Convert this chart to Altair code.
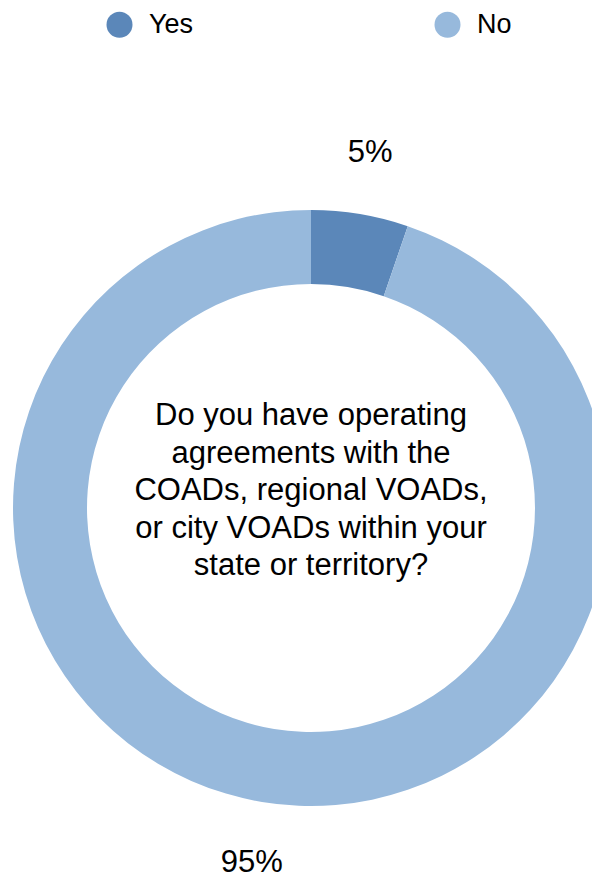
import altair as alt
import pandas as pd

answers = ["Yes", "No"]
counts = [1, 18]
pct_labels = ["5%", "95%"]
order_idx = [0, 1]
colors = ["#5b87b9", "#97b9dc"]
question_lines = [
    "Do you have operating",
    "agreements with the",
    "COADs, regional VOADs,",
    "or city VOADs within your",
    "state or territory?",
]

df = pd.DataFrame({"answer": answers, "count": counts, "label": pct_labels, "idx": order_idx})

FONT = "Liberation Sans"
CX, CY = 303, 500

base = alt.Chart(df).encode(
    theta=alt.Theta("count:Q", stack=True),
    order=alt.Order("idx:Q"),
)

color = alt.Color(
    "answer:N",
    scale=alt.Scale(domain=answers, range=colors),
    legend=alt.Legend(
        title=None,
        orient="none",
        direction="horizontal",
        legendX=98,
        legendY=3,
        padding=0,
        symbolType="circle",
        symbolSize=676,
        symbolStrokeWidth=0,
        labelFontSize=27,
        labelFont=FONT,
        labelColor="#000000",
        labelOffset=16,
        columnPadding=240,
    ),
)

donut = base.mark_arc(outerRadius=298, innerRadius=224, stroke=None).encode(
    color=color,
    x=alt.value(CX),
    y=alt.value(CY),
)

labels = base.mark_text(
    radius=360, fontSize=31, font=FONT, color="#000000", align="center", baseline="middle"
).encode(
    text="label:N",
    x=alt.value(CX),
    y=alt.value(CY),
)

center = alt.Chart(pd.DataFrame({"q": [0]})).mark_text(
    fontSize=31, font=FONT, color="#000000", align="center", baseline="middle", lineHeight=37.5
).encode(
    text=alt.value(question_lines),
    x=alt.value(CX),
    y=alt.value(408),
)

chart = (
    alt.layer(donut, labels, center)
    .properties(width=584, height=872, padding=0, autosize=alt.AutoSizeParams(type="none"))
    .configure_view(stroke=None)
)

chart.save("out.html", embed_options={"renderer": "svg", "actions": False})
